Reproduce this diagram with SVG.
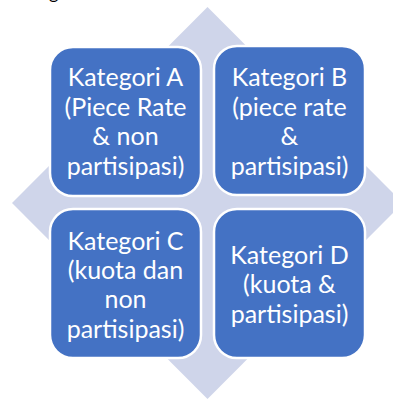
<svg xmlns="http://www.w3.org/2000/svg" width="393" height="400" viewBox="0 0 393 400">
<style>
.box{fill:#4472C4;stroke:#FFFFFF;stroke-width:2.5}
.lbl{fill:#FFFFFF;font-family:Lato,"Noto Sans",sans-serif;font-size:25px;text-anchor:middle}
</style>
<rect width="393" height="400" fill="#FFFFFF"/>
<text x="49" y="-1" font-family="Lato, sans-serif" font-size="18" fill="#000000">g</text>
<g id="connectors">
<polygon id="diamond" points="207.5,7 403,203 207.5,399 12,203" fill="#CFD5EA"/>
</g>
<g id="nodeA">
<rect class="box" x="50" y="47" width="151" height="149" rx="23"/>
<text class="lbl"><tspan x="125.5" y="86">Kategori A</tspan><tspan x="125.5" y="116">(Piece Rate</tspan><tspan x="125.5" y="145">&amp; non</tspan><tspan x="125.5" y="175">partisipasi)</tspan></text>
</g>
<g id="nodeB">
<rect class="box" x="214" y="46" width="151" height="149" rx="23"/>
<text class="lbl"><tspan x="289.5" y="86">Kategori B</tspan><tspan x="289.5" y="116">(piece rate</tspan><tspan x="289.5" y="145">&amp;</tspan><tspan x="289.5" y="175">partisipasi)</tspan></text>
</g>
<g id="nodeC">
<rect class="box" x="50" y="209" width="151" height="149" rx="23"/>
<text class="lbl"><tspan x="125.5" y="250">Kategori C</tspan><tspan x="125.5" y="279">(kuota dan</tspan><tspan x="125.5" y="308">non</tspan><tspan x="125.5" y="338">partisipasi)</tspan></text>
</g>
<g id="nodeD">
<rect class="box" x="214" y="209" width="151" height="149" rx="23"/>
<text class="lbl"><tspan x="289.5" y="264">Kategori D</tspan><tspan x="289.5" y="293">(kuota &amp;</tspan><tspan x="289.5" y="323">partisipasi)</tspan></text>
</g>
</svg>
